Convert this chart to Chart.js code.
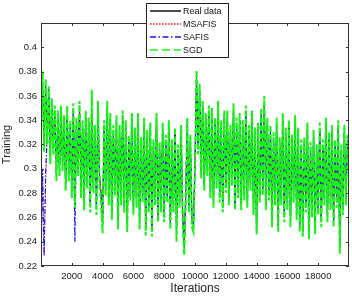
<!DOCTYPE html>
<html><head><meta charset="utf-8">
<script src="https://cdn.jsdelivr.net/npm/chart.js@4/dist/chart.umd.min.js"></script>
<style>html,body{margin:0;padding:0;background:#fff}#wrap{width:352px;height:296px}</style>
</head><body><div id="wrap"><canvas id="c" width="352" height="296"></canvas></div>
<script>
const iterStep = 100;
const seriesNames = ['Real data','MSAFIS','SAFIS','SGD'];
const seriesColors = ['#111111','rgb(240,20,20)','rgb(20,20,235)','rgb(20,245,20)'];
const seriesDash = [[],[1.5,1.5],[6,2.5,1.5,2.5],[8,4]];
const yTicks = [0.22,0.24,0.26,0.28,0.3,0.32,0.34,0.36,0.38,0.4];
const xTicks = [2000,4000,6000,8000,10000,12000,14000,16000,18000];

const realData = [
.340,.372,.320,.368,.326,.362,.310,.352,.318,.346,
.296,.342,.300,.346,.304,.338,.288,.344,.296,.334,
.284,.348,.276,.336,.300,.350,.282,.334,.274,.342,
.290,.336,.272,.346,.286,.330,.268,.350,.294,.280,
.256,.334,.284,.350,.276,.340,.266,.330,.284,.338,
.258,.330,.276,.342,.270,.334,.256,.322,.280,.340,
.268,.328,.274,.340,.258,.320,.278,.336,.252,.326,
.270,.332,.252,.318,.276,.340,.262,.316,.270,.332,
.262,.322,.278,.334,.256,.318,.270,.328,.248,.314,
.274,.330,.262,.236,.280,.336,.270,.322,.258,.254,
.304,.374,.318,.364,.298,.350,.288,.340,.300,.346,
.282,.344,.274,.336,.290,.350,.278,.334,.270,.342,
.286,.342,.276,.330,.292,.348,.272,.336,.282,.340,
.272,.334,.280,.346,.274,.330,.288,.342,.268,.328,
.250,.332,.278,.344,.284,.352,.272,.336,.280,.330,
.258,.324,.276,.336,.254,.320,.276,.340,.262,.328,
.272,.334,.258,.322,.278,.338,.264,.328,.254,.318,
.250,.320,.270,.332,.248,.316,.266,.326,.252,.314,
.268,.332,.258,.318,.276,.336,.262,.324,.272,.330,
.258,.318,.274,.334,.236,.314,.268,.330,.276,.322];

const msafis = [
.226,.296,.232,.290,.324,.360,.312,.350,.320,.344,
.298,.340,.302,.344,.306,.336,.290,.342,.298,.332,
.286,.346,.278,.334,.302,.348,.284,.332,.276,.340,
.292,.334,.274,.344,.288,.328,.270,.348,.296,.282,
.258,.332,.286,.348,.278,.338,.268,.328,.286,.336,
.260,.328,.278,.340,.272,.332,.258,.320,.282,.338,
.270,.326,.276,.338,.260,.318,.280,.334,.254,.324,
.272,.330,.254,.316,.278,.338,.264,.314,.272,.330,
.264,.320,.280,.332,.258,.316,.272,.326,.250,.312,
.276,.328,.264,.240,.282,.334,.272,.320,.260,.256,
.306,.370,.320,.362,.300,.348,.290,.338,.302,.344,
.284,.342,.276,.334,.292,.348,.280,.332,.272,.340,
.288,.340,.278,.328,.294,.346,.274,.334,.284,.338,
.274,.332,.282,.344,.276,.328,.290,.340,.270,.326,
.252,.330,.280,.342,.286,.350,.274,.334,.282,.328,
.260,.322,.278,.334,.256,.318,.278,.338,.264,.326,
.274,.332,.260,.320,.280,.336,.266,.326,.256,.316,
.252,.318,.272,.330,.250,.314,.268,.324,.254,.312,
.270,.330,.260,.316,.278,.334,.264,.322,.274,.328,
.260,.316,.276,.332,.240,.312,.270,.328,.278,.320];

const safis = [
.222,.300,.228,.294,.330,.366,.316,.356,.322,.348,
.294,.344,.298,.348,.302,.340,.286,.346,.294,.336,
.282,.350,.240,.338,.298,.352,.280,.336,.272,.344,
.288,.338,.270,.348,.284,.332,.266,.352,.292,.278,
.254,.336,.282,.352,.274,.342,.264,.332,.282,.340,
.256,.332,.274,.344,.268,.336,.254,.324,.278,.342,
.266,.330,.272,.342,.256,.322,.276,.338,.250,.328,
.268,.334,.250,.320,.274,.342,.260,.318,.268,.334,
.260,.324,.276,.336,.254,.320,.268,.330,.246,.316,
.272,.332,.260,.234,.278,.338,.268,.324,.256,.252,
.302,.376,.316,.366,.296,.352,.286,.342,.298,.348,
.280,.346,.272,.338,.288,.352,.276,.336,.268,.344,
.284,.344,.274,.332,.290,.350,.270,.338,.280,.342,
.270,.336,.278,.348,.272,.332,.286,.344,.266,.330,
.248,.334,.276,.346,.282,.354,.270,.338,.278,.332,
.256,.326,.274,.338,.252,.322,.274,.342,.260,.330,
.270,.336,.256,.324,.276,.340,.262,.330,.252,.320,
.248,.322,.268,.334,.246,.318,.264,.328,.250,.316,
.266,.334,.256,.320,.274,.338,.260,.326,.270,.332,
.256,.320,.272,.336,.238,.316,.266,.332,.274,.324];

const sgd = [
.336,.380,.314,.374,.320,.368,.304,.358,.312,.352,
.290,.348,.294,.352,.298,.344,.282,.352,.290,.340,
.276,.354,.268,.342,.294,.356,.276,.340,.266,.348,
.284,.342,.264,.365,.280,.336,.262,.356,.288,.272,
.247,.340,.278,.356,.270,.346,.258,.336,.278,.344,
.250,.336,.270,.348,.264,.340,.248,.328,.274,.346,
.262,.334,.268,.346,.250,.326,.272,.342,.245,.332,
.264,.338,.244,.324,.270,.346,.256,.322,.264,.338,
.256,.328,.272,.340,.250,.324,.264,.334,.240,.320,
.268,.336,.256,.229,.274,.342,.264,.328,.252,.248,
.298,.381,.312,.370,.292,.356,.282,.346,.294,.352,
.276,.350,.268,.342,.284,.356,.272,.340,.264,.348,
.280,.348,.270,.336,.286,.354,.266,.342,.276,.346,
.266,.340,.274,.352,.268,.336,.282,.348,.262,.334,
.246,.338,.272,.350,.278,.360,.266,.342,.274,.336,
.252,.330,.270,.342,.248,.326,.270,.346,.256,.334,
.266,.340,.252,.328,.272,.344,.258,.334,.248,.324,
.244,.326,.264,.338,.242,.322,.260,.332,.246,.320,
.262,.338,.252,.324,.270,.342,.256,.330,.266,.336,
.252,.324,.268,.340,.230,.320,.262,.336,.270,.328];

function toXY(arr){ return arr.map((v,i)=>({x:i*iterStep, y:v})); }

const FONT = '"Liberation Sans", Arial, sans-serif';

const boxPlugin = {
  id:'box',
  afterDraw(chart){
    const ctx = chart.ctx, a = chart.chartArea;
    const xs = chart.scales.x, ys = chart.scales.y;
    ctx.save();
    ctx.strokeStyle = '#333'; ctx.lineWidth = 1;
    ctx.strokeRect(a.left+0.5, a.top+0.5, a.right-a.left-1, a.bottom-a.top-1);
    ctx.beginPath();
    xTicks.forEach(v=>{const p=Math.round(xs.getPixelForValue(v))+0.5;
      ctx.moveTo(p,a.bottom); ctx.lineTo(p,a.bottom-3);
      ctx.moveTo(p,a.top); ctx.lineTo(p,a.top+3);});
    yTicks.forEach(v=>{const p=Math.round(ys.getPixelForValue(v))+0.5;
      ctx.moveTo(a.left,p); ctx.lineTo(a.left+3,p);
      ctx.moveTo(a.right,p); ctx.lineTo(a.right-3,p);});
    ctx.stroke();
    // legend
    const lx=146, ly=3, lw=82, lh=54;
    ctx.fillStyle='#fff'; ctx.fillRect(lx,ly,lw,lh);
    ctx.strokeStyle='#222'; ctx.lineWidth=1; ctx.strokeRect(lx+0.5,ly+0.5,lw,lh);
    seriesNames.forEach((name,i)=>{
      const yy = ly+8+i*13;
      ctx.save();
      ctx.beginPath();
      ctx.setLineDash(seriesDash[i]);
      ctx.strokeStyle=seriesColors[i]; ctx.lineWidth=1.5;
      ctx.moveTo(lx+4,yy); ctx.lineTo(lx+35,yy); ctx.stroke();
      ctx.restore();
      ctx.fillStyle='#111'; ctx.font='9px '+FONT; ctx.textBaseline='middle';
      ctx.fillText(name, lx+37, yy+1);
    });
    ctx.restore();
  }
};

new Chart(document.getElementById('c'), {
  type:'line',
  data:{datasets:[
    {label:seriesNames[0], data:toXY(realData), borderColor:seriesColors[0], borderWidth:1, borderDash:seriesDash[0], order:4},
    {label:seriesNames[1], data:toXY(msafis), borderColor:seriesColors[1], borderWidth:1, borderDash:[1.2,1.8], order:3},
    {label:seriesNames[2], data:toXY(safis), borderColor:seriesColors[2], borderWidth:1.2, borderDash:[5,2,1.2,2], order:2},
    {label:seriesNames[3], data:toXY(sgd), borderColor:seriesColors[3], borderWidth:2, borderDash:[6,2], order:1}
  ]},
  options:{
    responsive:false, animation:false,
    layout:{padding:{top:23,right:3,left:0,bottom:0}},
    elements:{point:{radius:0}, line:{tension:0}},
    plugins:{legend:{display:false}, tooltip:{enabled:false}},
    scales:{
      x:{type:'linear', min:0, max:20000,
        grid:{display:false, drawTicks:false}, border:{display:false},
        afterBuildTicks(s){ s.ticks = xTicks.map(v=>({value:v})); },
        afterFit(s){ s.height = 30; },
        ticks:{font:{size:9.5,family:FONT}, color:'#222', padding:5, maxRotation:0, autoSkip:false, callback:v=>String(v)},
        title:{display:true, text:'Iterations', font:{size:12,family:FONT}, color:'#222', padding:{top:0,bottom:0}}
      },
      y:{min:0.22, max:0.42,
        grid:{display:false, drawTicks:false}, border:{display:false},
        afterBuildTicks(s){ s.ticks = yTicks.map(v=>({value:v})); },
        afterFit(s){ s.width = 41; },
        ticks:{font:{size:9.5,family:FONT}, color:'#222', padding:4, autoSkip:false, callback:v=>String(+v.toFixed(2))},
        title:{display:true, text:'Training', font:{size:11,family:FONT}, color:'#222', padding:{top:0,bottom:0}}
      }
    }
  },
  plugins:[boxPlugin]
});
</script></body></html>
